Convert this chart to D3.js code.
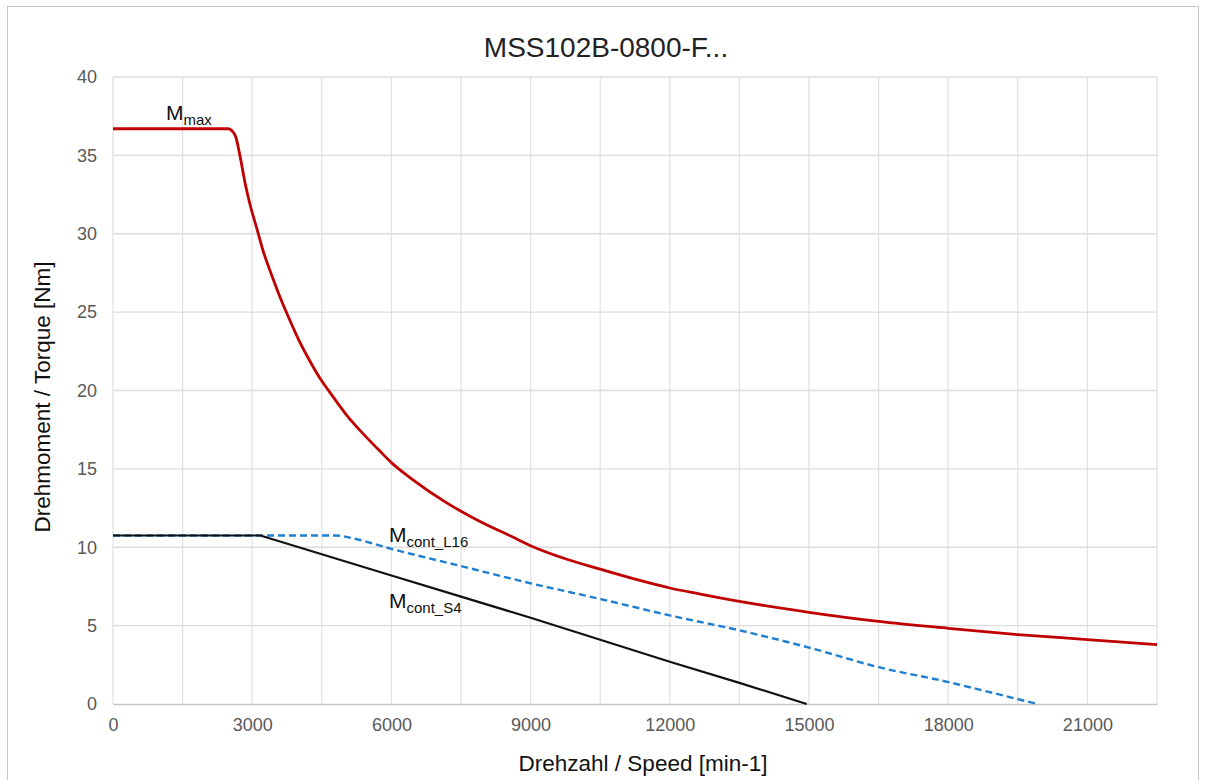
<!DOCTYPE html>
<html>
<head>
<meta charset="utf-8">
<script src="https://cdn.jsdelivr.net/npm/d3@7"></script>
<style>
  body { margin: 0; background: #fff; }
  svg { font-family: "Liberation Sans", Arial, sans-serif; }
</style>
</head>
<body>
<div id="chart"></div>
<script>
// curve data (speed in min-1, torque in Nm)
const maxSpeed = [0, 2480, 2630, 2735, 2842, 2950, 3093, 3236, 3415, 3594, 3809, 4024, 4239, 4500, 4670, 5029, 5388, 5747, 6000, 6465, 7183, 7500, 7900, 8616, 9000, 9765, 10500, 11270, 12000, 12630, 13500, 15000, 16500, 18000, 19500, 21000, 22500];
const maxTorque = [36.7, 36.7, 36.3, 35.0, 33.3, 31.9, 30.4, 28.9, 27.4, 26.0, 24.5, 23.1, 21.9, 20.6, 19.9, 18.45, 17.25, 16.15, 15.4, 14.3, 12.85, 12.3, 11.66, 10.65, 10.1, 9.25, 8.6, 7.95, 7.4, 7.03, 6.55, 5.85, 5.27, 4.83, 4.43, 4.11, 3.79];

const l16Speed = [0, 3175, 4800, 5200, 6000, 7500, 9000, 10500, 12000, 13500, 15000, 16500, 18000, 18700, 19920];
const l16Torque = [10.75, 10.75, 10.75, 10.55, 9.9, 8.8, 7.7, 6.7, 5.65, 4.7, 3.6, 2.35, 1.4, 0.9, 0];

const s4Speed = [0, 3175, 4500, 6000, 7500, 9000, 10500, 12000, 13500, 14950];
const s4Torque = [10.75, 10.75, 9.55, 8.2, 6.85, 5.5, 4.1, 2.7, 1.35, 0];

const xTicks = [0, 3000, 6000, 9000, 12000, 15000, 18000, 21000];
const xMinor = [1500, 4500, 7500, 10500, 13500, 16500, 19500, 22500];
const yTicks = [0, 5, 10, 15, 20, 25, 30, 35, 40];

const width = 1205;
const height = 780;
const margin = { top: 77, right: 48, bottom: 76, left: 113 };
const plotWidth = width - margin.left - margin.right;
const plotHeight = height - margin.top - margin.bottom;

const svg = d3.select("#chart")
    .append("svg")
    .attr("width", width)
    .attr("height", height);

// outer chart frame
svg.append("rect")
    .attr("x", 7.5)
    .attr("y", 6.5)
    .attr("width", 1191)
    .attr("height", 800)
    .attr("fill", "none")
    .attr("stroke", "#c8c8c8");

const xScale = d3.scaleLinear().domain([0, 22500]).range([0, plotWidth]);
const yScale = d3.scaleLinear().domain([0, 40]).range([plotHeight, 0]);

const plot = svg.append("g")
    .attr("transform", `translate(${margin.left},${margin.top})`);

// gridlines
plot.append("g")
    .selectAll("line")
    .data(xMinor.concat(xTicks))
    .join("line")
    .attr("x1", d => xScale(d))
    .attr("x2", d => xScale(d))
    .attr("y1", 0)
    .attr("y2", plotHeight)
    .attr("stroke", "#e3e3e3")
    .attr("stroke-width", 1.3);

plot.append("g")
    .selectAll("line")
    .data(yTicks.filter(d => d > 0))
    .join("line")
    .attr("x1", 0)
    .attr("x2", plotWidth)
    .attr("y1", d => yScale(d))
    .attr("y2", d => yScale(d))
    .attr("stroke", "#dcdcdc")
    .attr("stroke-width", 1.3);

// axes (labels only, axis line at the bottom)
const xAxis = d3.axisBottom(xScale).tickValues(xTicks).tickSize(0).tickPadding(14).tickFormat(d3.format("d"));
const yAxis = d3.axisLeft(yScale).tickValues(yTicks).tickSize(0).tickPadding(16);

const gx = plot.append("g")
    .attr("transform", `translate(0,${plotHeight})`)
    .call(xAxis);
gx.select(".domain").attr("stroke", "#c6c6c6").attr("stroke-width", 1.5);

const gy = plot.append("g").call(yAxis);
gy.select(".domain").remove();

svg.selectAll(".tick text")
    .attr("fill", "#595959")
    .attr("font-size", 18)
    .attr("font-family", "Liberation Sans, Arial, sans-serif");

const line = d3.line()
    .x(d => xScale(d[0]))
    .y(d => yScale(d[1]));

const smooth = d3.line()
    .curve(d3.curveMonotoneX)
    .x(d => xScale(d[0]))
    .y(d => yScale(d[1]));

const zip = (a, b) => a.map((v, i) => [v, b[i]]);

plot.append("path")
    .datum(zip(maxSpeed, maxTorque))
    .attr("fill", "none")
    .attr("stroke", "#c00000")
    .attr("stroke-width", 2.8)
    .attr("stroke-linejoin", "round")
    .attr("d", smooth);

plot.append("path")
    .datum(zip(l16Speed, l16Torque))
    .attr("fill", "none")
    .attr("stroke", "#1f7fd1")
    .attr("stroke-width", 2.4)
    .attr("stroke-dasharray", "7,4")
    .attr("d", smooth);

plot.append("path")
    .datum(zip(s4Speed, s4Torque))
    .attr("fill", "none")
    .attr("stroke", "#111")
    .attr("stroke-width", 2.2)
    .attr("stroke-linejoin", "round")
    .attr("d", line);

// curve labels
function curveLabel(x, y, sub) {
    const t = svg.append("text")
        .attr("x", x)
        .attr("y", y)
        .attr("font-size", 21)
        .attr("fill", "#111");
    t.append("tspan").text("M");
    t.append("tspan")
        .attr("font-size", 15)
        .attr("dy", 5)
        .text(sub);
}
curveLabel(166, 120, "max");
curveLabel(389, 542, "cont_L16");
curveLabel(389, 608, "cont_S4");

// titles
svg.append("text")
    .attr("x", 606)
    .attr("y", 57)
    .attr("text-anchor", "middle")
    .attr("font-size", 28)
    .attr("fill", "#222")
    .text("MSS102B-0800-F...");

svg.append("text")
    .attr("x", 643)
    .attr("y", 771)
    .attr("text-anchor", "middle")
    .attr("font-size", 22.5)
    .attr("fill", "#111")
    .text("Drehzahl / Speed [min-1]");

svg.append("text")
    .attr("transform", "translate(50,397) rotate(-90)")
    .attr("text-anchor", "middle")
    .attr("font-size", 22.5)
    .attr("fill", "#111")
    .text("Drehmoment / Torque [Nm]");
</script>
</body>
</html>
